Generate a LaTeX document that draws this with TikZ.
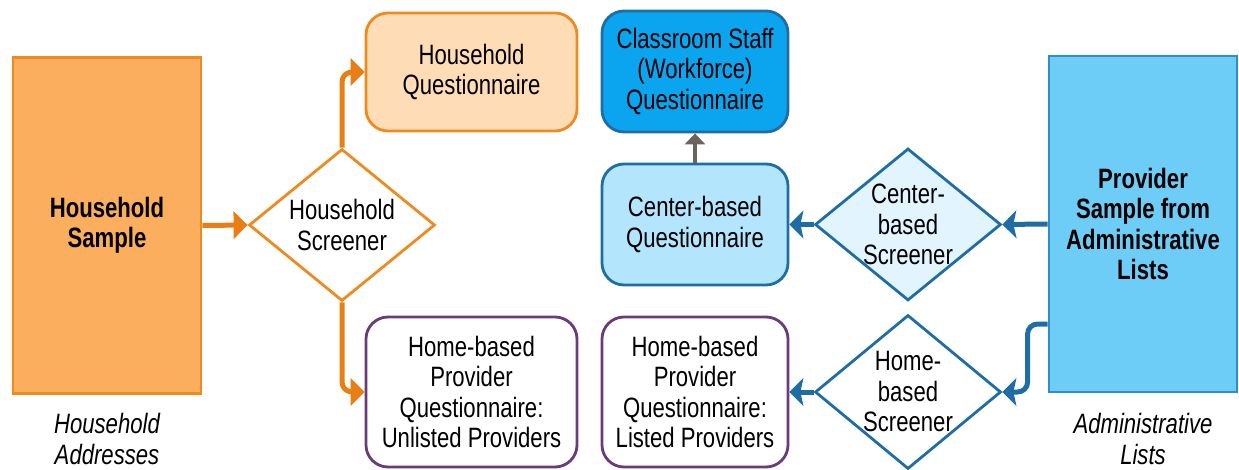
\documentclass[tikz,border=0pt]{standalone}
\usepackage{fontspec}
\setmainfont{Liberation Sans}[FakeStretch=0.79]
\usepackage{xcolor}
\usepackage{tikz}
\usetikzlibrary{positioning,shapes,calc}
\usetikzlibrary{arrows.meta}

\definecolor{hhorange}{HTML}{EE8A1E}
\definecolor{hhfill}{HTML}{FBAE5E}
\definecolor{hhpeach}{HTML}{FDDCB6}
\definecolor{hharrow}{HTML}{E87E14}
\definecolor{homepurple}{HTML}{6A3B78}
\definecolor{pvblue}{HTML}{1E6EA5}
\definecolor{pvfill}{HTML}{6ECDF7}
\definecolor{pvborder}{HTML}{2E8FC8}
\definecolor{staffblue}{HTML}{0BA5EF}
\definecolor{centerfill}{HTML}{B3E5FC}
\definecolor{screenfill}{HTML}{E2F4FD}
\definecolor{upgray}{HTML}{6D635C}

\begin{document}
\begin{tikzpicture}[x=1pt,y=-1pt,
	every node/.style={font=\fontsize{28}{30.5}\selectfont,align=center},
	sample/.style={rectangle,line width=2.8pt,minimum width=188pt,minimum height=336pt,inner sep=0pt,font=\fontsize{28}{30.5}\selectfont\bfseries},
	quest/.style={rectangle,rounded corners=22pt,line width=2.8pt,inner sep=0pt},
	screener/.style={diamond,line width=2.8pt,inner sep=-12pt,minimum width=186pt,minimum height=152pt},
	caption/.style={font=\fontsize{28}{30.5}\selectfont\itshape},
	oarrow/.style={draw=hharrow,line width=5pt,rounded corners=10pt,-{Triangle[length=14pt,width=27pt]}},
	barrow/.style={draw=pvblue,line width=5pt,rounded corners=10pt,-{Stealth[length=14pt,width=28pt,inset=3pt]}}]
	\useasboundingbox (0,0) rectangle (1239,470);
	% household side
	\node[sample,draw=hhorange,fill=hhfill] (hhsample) at (107,225.5) {Household\\Sample};
	\node[caption] (hhaddr) at (107,439) {Household\\Addresses};
	\node[screener,draw=hhorange,fill=white] (hhscreen) at (342,225) {Household\\Screener};
	\node[quest,draw=hhorange,fill=hhpeach,minimum width=211pt,minimum height=118pt] (hhquest) at (471.5,72) {Household\\Questionnaire};
	\node[quest,draw=homepurple,fill=white,minimum width=211pt,minimum height=150pt] (unlisted) at (471.5,392) {Home-based\\Provider\\Questionnaire:\\Unlisted Providers};
	% provider side
	\node[quest,draw=pvblue,fill=staffblue,minimum width=186pt,minimum height=121pt] (staff) at (695,71.5) {Classroom Staff\\(Workforce)\\Questionnaire};
	\node[quest,draw=pvblue,fill=centerfill,minimum width=186pt,minimum height=121pt] (centerq) at (695,224.5) {Center-based\\Questionnaire};
	\node[quest,draw=homepurple,fill=white,minimum width=186pt,minimum height=150pt] (listed) at (695,392) {Home-based\\Provider\\Questionnaire:\\Listed Providers};
	\node[screener,draw=pvblue,fill=screenfill] (centerscreen) at (908,224.5) {Center-\\based\\Screener};
	\node[screener,draw=pvblue,fill=white,minimum height=154pt] (homescreen) at (908,392) {Home-\\based\\Screener};
	\node[sample,draw=pvborder,fill=pvfill] (pvsample) at (1143,224) {Provider\\Sample from\\Administrative\\Lists};
	\node[caption] (adminlists) at (1143,439) {Administrative\\Lists};
	% connectors
	\draw[oarrow] (hhsample.east) -- (hhscreen.west);
	\draw[oarrow] (hhscreen.north) |- (hhquest.west);
	\draw[oarrow] (hhscreen.south) |- (unlisted.west);
	\draw[draw=upgray,line width=4pt,-{Triangle[length=11pt,width=20pt]}] (centerq.north) -- (staff.south);
	\draw[barrow] (pvsample.west) -- (centerscreen.east);
	\draw[barrow] (centerscreen.west) -- (centerq.east);
	\draw[barrow] ([yshift=-100pt]pvsample.west) -- ++(-20,0) |- (homescreen.east);
	\draw[barrow] (homescreen.west) -- (listed.east);
\end{tikzpicture}
\end{document}
